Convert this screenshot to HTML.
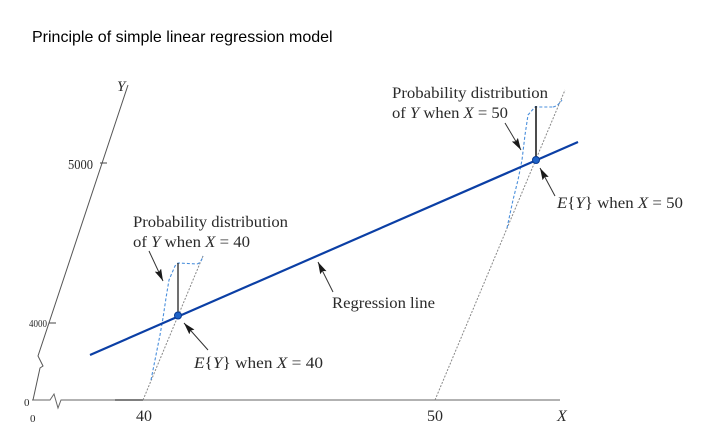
<!DOCTYPE html>
<html><head><meta charset="utf-8"><style>
html,body{margin:0;padding:0;background:#fff;}
svg{display:block;}
.s{font-family:"Liberation Serif",serif;fill:#2a2a2a;}
</style></head><body>
<svg width="707" height="447" viewBox="0 0 707 447" xmlns="http://www.w3.org/2000/svg">
<defs>
<marker id="ah" markerWidth="12" markerHeight="7" refX="12" refY="3.5" orient="auto" markerUnits="userSpaceOnUse">
<path d="M0,0 L12,3.5 L0,7 L2,3.5 Z" fill="#1a1a1a"/>
</marker>
</defs>
<rect width="707" height="447" fill="#fff"/>
<text x="32" y="42" font-family="Liberation Sans, sans-serif" font-size="16" fill="#000">Principle of simple linear regression model</text>

<!-- Y axis -->
<polyline points="128,85 38,356 43,366 40,368 33,400" fill="none" stroke="#555" stroke-width="1"/>
<line x1="100" y1="163" x2="107" y2="163" stroke="#444" stroke-width="1"/>
<line x1="49" y1="323" x2="56" y2="323" stroke="#444" stroke-width="1"/>
<text class="s" x="68" y="169" font-size="14" textLength="25" lengthAdjust="spacingAndGlyphs" fill="#555">5000</text>
<text class="s" x="29" y="327" font-size="11" textLength="18" lengthAdjust="spacingAndGlyphs" fill="#777">4000</text>
<text class="s" x="117" y="91" font-size="15" font-style="italic">Y</text>
<text class="s" x="24" y="406" font-size="11" fill="#aaa">0</text>
<text class="s" x="30" y="422" font-size="11" fill="#aaa">0</text>

<!-- X axis -->
<polyline points="32,400 50,400 54,394 58,408 61,400 560,400" fill="none" stroke="#666" stroke-width="1"/>
<line x1="115" y1="400" x2="143" y2="400" stroke="#555" stroke-width="1.6"/>
<text class="s" x="136" y="421" font-size="16">40</text>
<text class="s" x="427" y="421" font-size="16">50</text>
<text class="s" x="557" y="421" font-size="16" font-style="italic">X</text>

<!-- gray dotted diagonals -->
<line x1="143" y1="400" x2="203" y2="256" stroke="#888" stroke-width="1" stroke-dasharray="2,1.5"/>
<line x1="435" y1="400" x2="565" y2="90" stroke="#888" stroke-width="1" stroke-dasharray="2,1.5"/>

<!-- distributions -->
<polyline points="151,380 156,355 160,335 163,318 166,298 169,280 175,266 178,263 197,264" fill="none" stroke="#4a8fdc" stroke-width="1.1" stroke-dasharray="3,2"/>
<path d="M197,264 Q201,263 203,256" fill="none" stroke="#4a8fdc" stroke-width="1.1" stroke-dasharray="3,2"/>
<line x1="178" y1="263" x2="178" y2="315" stroke="#222" stroke-width="1.3"/>

<polyline points="507,228 513,200 518,180 522,160 525,135 528,115 535,107 553,107" fill="none" stroke="#4a8fdc" stroke-width="1.1" stroke-dasharray="3,2"/>
<path d="M553,107 Q558,106 562,100" fill="none" stroke="#4a8fdc" stroke-width="1.1" stroke-dasharray="3,2"/>
<line x1="536" y1="106" x2="536" y2="160" stroke="#111" stroke-width="1.5"/>

<!-- regression line -->
<line x1="90" y1="355" x2="578" y2="142" stroke="#0b3fa5" stroke-width="2.2"/>
<circle cx="178" cy="315.5" r="3.5" fill="#1f63c8" stroke="#0a3a90" stroke-width="1"/>
<circle cx="536" cy="160" r="3.5" fill="#1f63c8" stroke="#0a3a90" stroke-width="1"/>

<!-- arrows -->
<line x1="149" y1="251" x2="163" y2="281" stroke="#333" stroke-width="1" marker-end="url(#ah)"/>
<line x1="208" y1="350" x2="184" y2="323" stroke="#333" stroke-width="1" marker-end="url(#ah)"/>
<line x1="333" y1="292" x2="318" y2="262" stroke="#333" stroke-width="1" marker-end="url(#ah)"/>
<line x1="505" y1="123" x2="521" y2="150" stroke="#333" stroke-width="1" marker-end="url(#ah)"/>
<line x1="555" y1="196" x2="540" y2="168" stroke="#333" stroke-width="1" marker-end="url(#ah)"/>

<!-- annotations -->
<text class="s" x="133" y="227" font-size="16" textLength="155" lengthAdjust="spacingAndGlyphs">Probability distribution</text>
<text class="s" x="133" y="247" font-size="16" textLength="117" lengthAdjust="spacingAndGlyphs">of <tspan font-style="italic">Y</tspan> when <tspan font-style="italic">X</tspan> = 40</text>
<text class="s" x="194" y="368" font-size="16" textLength="129" lengthAdjust="spacingAndGlyphs"><tspan font-style="italic">E</tspan>{<tspan font-style="italic">Y</tspan>} when <tspan font-style="italic">X</tspan> = 40</text>
<text class="s" x="332" y="308" font-size="16" textLength="103" lengthAdjust="spacingAndGlyphs">Regression line</text>
<text class="s" x="392" y="98" font-size="16" textLength="156" lengthAdjust="spacingAndGlyphs">Probability distribution</text>
<text class="s" x="392" y="118" font-size="16" textLength="116" lengthAdjust="spacingAndGlyphs">of <tspan font-style="italic">Y</tspan> when <tspan font-style="italic">X</tspan> = 50</text>
<text class="s" x="557" y="208" font-size="16" textLength="126" lengthAdjust="spacingAndGlyphs"><tspan font-style="italic">E</tspan>{<tspan font-style="italic">Y</tspan>} when <tspan font-style="italic">X</tspan> = 50</text>
</svg>
</body></html>
